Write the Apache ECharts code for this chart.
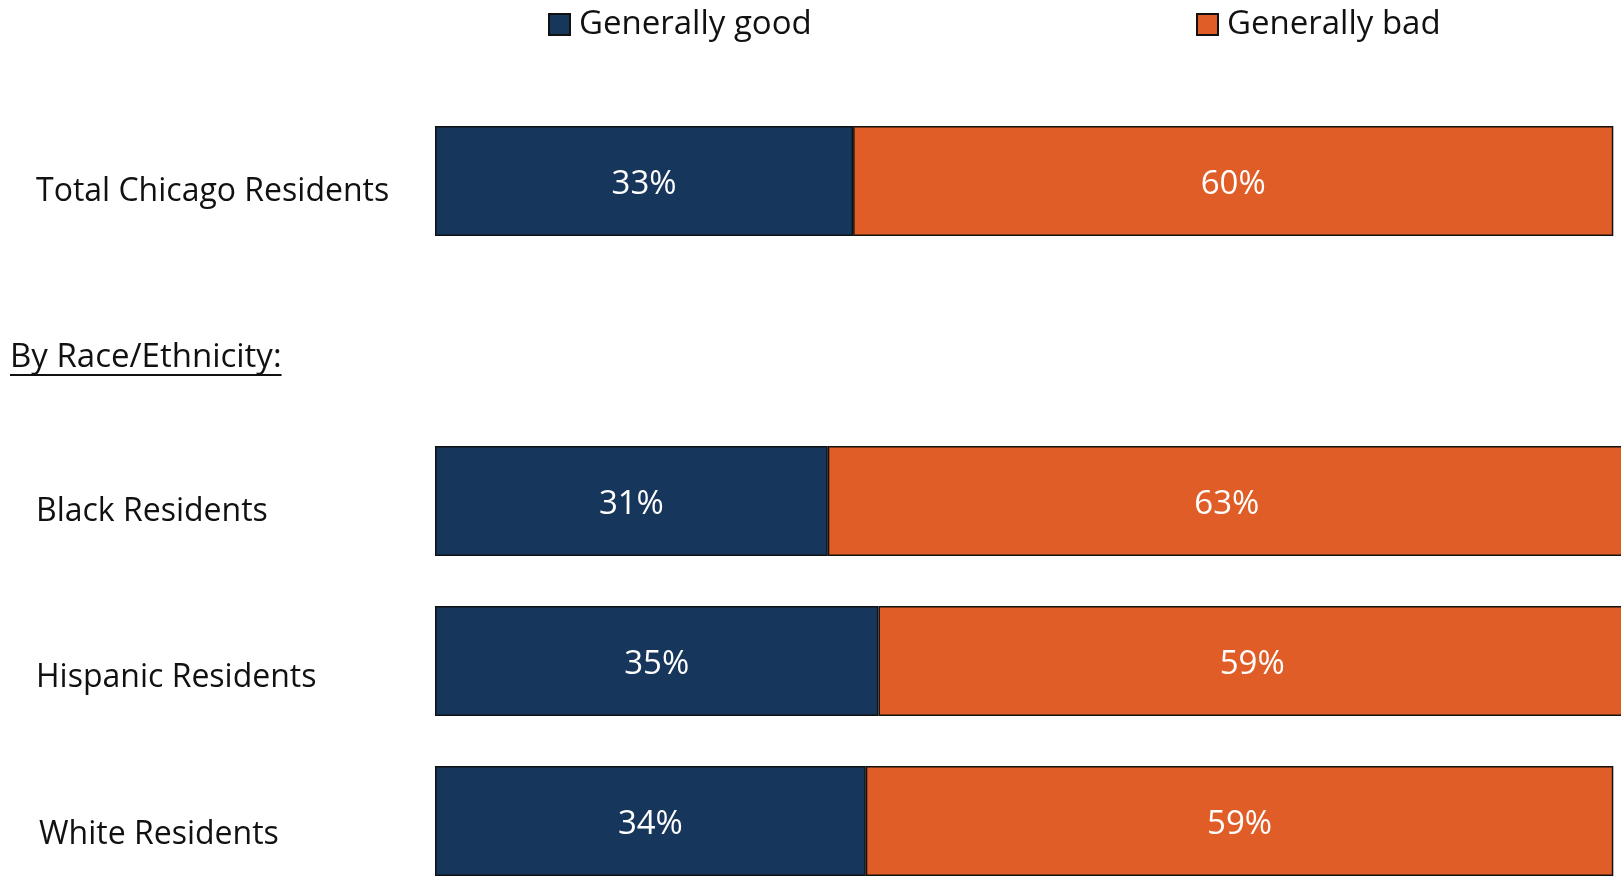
<!DOCTYPE html>
<html>
<head>
<meta charset="utf-8">
<script src="https://cdn.jsdelivr.net/npm/echarts@6/dist/echarts.min.js"></script>
<style>
  html, body { margin: 0; padding: 0; background: #fff; }
  #chart { width: 1621px; height: 876px; }
</style>
</head>
<body>
<div id="chart"></div>
<script>
// Survey groups, top to bottom; the second row is a section heading with no bar
const categories = ['Total Chicago Residents', 'By Race/Ethnicity:', 'Black Residents', 'Hispanic Residents', 'White Residents'];
const headingLabel = 'By Race/Ethnicity:';
const seriesNames = ['Generally good', 'Generally bad'];
const goodValues = [33, null, 31, 35, 34];
const badValues = [60, null, 63, 59, 59];

const FONT = '"Open Sans", sans-serif';
const LABEL_SIZE = 32;   // category labels
const TEXT_SIZE = 33;    // legend, heading and bar values
const NAVY = '#17365C';
const ORANGE = '#E05D27';

// per-row nudges of the category label text (top, left padding)
const labelNudge = {
  'Total Chicago Residents': [22, 0],
  'Black Residents': [22, 0],
  'Hispanic Residents': [34, 0],
  'White Residents': [28, 3]
};

// width of the heading text, for its underline
const measureCtx = document.createElement('canvas').getContext('2d');
measureCtx.font = TEXT_SIZE + 'px ' + FONT;
const headingWidth = measureCtx.measureText(headingLabel).width;

const chart = echarts.init(document.getElementById('chart'));

function barSeries(name, values, color) {
  return {
    name: name,
    type: 'bar',
    stack: 'total',
    barWidth: 110,
    clip: true,
    data: values,
    itemStyle: { color: color, borderColor: '#111', borderWidth: 1.5 },
    label: {
      show: true,
      position: 'inside',
      color: '#fff',
      fontFamily: FONT,
      fontSize: TEXT_SIZE,
      offset: [0, 4],
      formatter: p => p.value + '%'
    }
  };
}

const legendText = { fontFamily: FONT, fontSize: TEXT_SIZE, color: '#111', padding: [0, 0, 0, 4] };

const richLabels = {};
categories.forEach((c, i) => {
  if (c === headingLabel) return;
  const n = labelNudge[c];
  richLabels['r' + i] = {
    fontFamily: FONT,
    fontSize: LABEL_SIZE,
    color: '#111',
    padding: [n[0], 0, 0, n[1]]
  };
});

chart.setOption({
  animation: false,
  backgroundColor: '#fff',
  legend: [
    {
      data: [seriesNames[0]],
      left: 548, top: 8, padding: 0,
      icon: 'rect', itemWidth: 21, itemHeight: 21,
      textStyle: legendText
    },
    {
      data: [seriesNames[1]],
      left: 1196, top: 8, padding: 0,
      icon: 'rect', itemWidth: 21, itemHeight: 21,
      textStyle: legendText
    }
  ],
  grid: { left: 435, top: 101, width: 1267, height: 800, outerBoundsMode: 'none', containLabel: false },
  xAxis: {
    type: 'value', min: 0, max: 100,
    show: false
  },
  yAxis: {
    type: 'category',
    data: categories,
    inverse: true,
    axisLine: { show: false },
    axisTick: { show: false },
    axisLabel: {
      align: 'left',
      margin: 399,
      formatter: (v, i) => (v === headingLabel ? '' : '{r' + i + '|' + v + '}'),
      rich: richLabels
    }
  },
  series: [
    barSeries(seriesNames[0], goodValues, NAVY),
    barSeries(seriesNames[1], badValues, ORANGE)
  ],
  graphic: [
    {
      type: 'text',
      left: 10, top: 341,
      style: { text: headingLabel, font: TEXT_SIZE + 'px ' + FONT, fill: '#111' }
    },
    {
      type: 'rect',
      left: 10, top: 374,
      shape: { width: headingWidth, height: 2 },
      style: { fill: '#111' }
    }
  ]
});
</script>
</body>
</html>
